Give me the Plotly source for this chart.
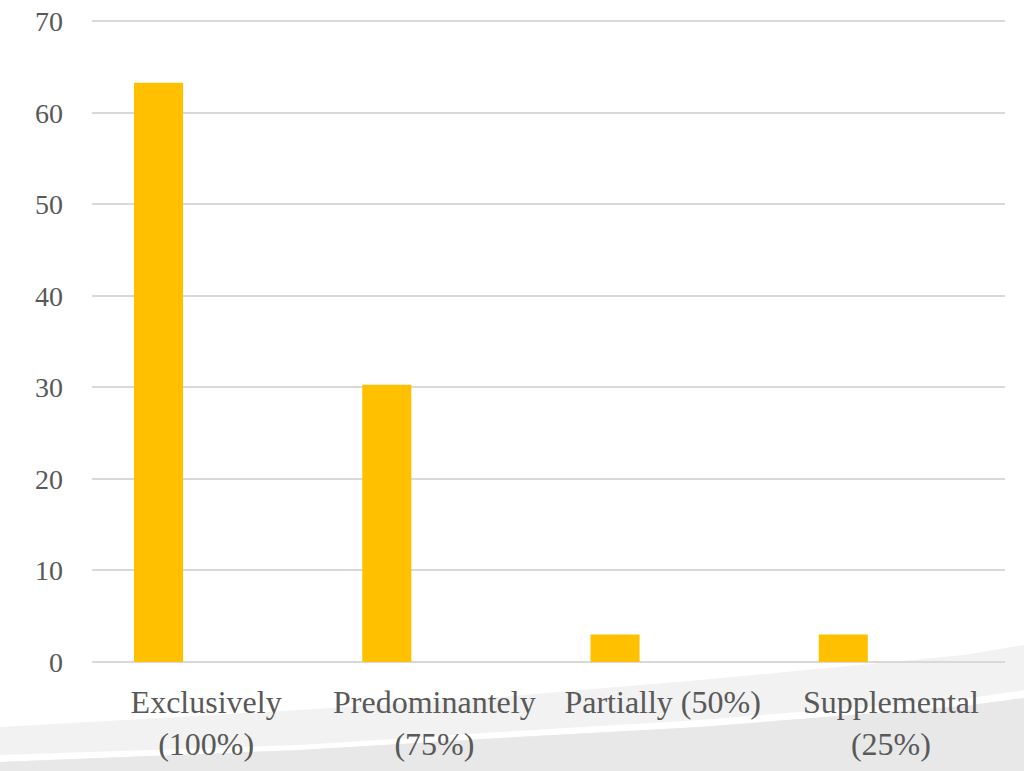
import plotly.graph_objects as go

# Share of responses by level of use
categories = ["Exclusively<br>(100%)", "Predominantely<br>(75%)", "Partially (50%)", "Supplemental<br>(25%)"]
values = [63.3, 30.3, 3, 3]
y_ticks = [0, 10, 20, 30, 40, 50, 60, 70]

W, H = 1024, 771
M_L, M_R, M_T, M_B = 92, 19, 20, 109
PW, PH = W - M_L - M_R, H - M_T - M_B

FONT = "Liberation Serif"
TEXT = "#595959"


def to_paper(pts):
    # convert page pixel points into paper fractions for a shape path
    out = []
    for i, (px, py) in enumerate(pts):
        fx = (px - M_L) / PW
        fy = (H - M_B - py) / PH
        out.append(("M" if i == 0 else "L") + f"{fx:.5f},{fy:.5f}")
    return " ".join(out) + " Z"


# decorative slide background bands along the bottom edge
light_top = [(0, 727), (300, 710), (500, 697), (700, 680), (964, 655), (1024, 645)]
light_bottom = [(0, 755), (300, 745), (500, 732), (700, 720), (964, 699), (1024, 690)]
dark_top = [(0, 762), (300, 750), (500, 738), (700, 727), (964, 706), (1024, 698)]
bottom_edge = [(1024, 771), (0, 771)]

shapes = [
    dict(type="path", xref="paper", yref="paper", layer="below",
         path=to_paper(light_top + bottom_edge), fillcolor="#f2f2f2", line=dict(width=0)),
    dict(type="path", xref="paper", yref="paper", layer="below",
         path=to_paper(light_bottom + dark_top[::-1]), fillcolor="#ffffff", line=dict(width=0)),
    dict(type="path", xref="paper", yref="paper", layer="below",
         path=to_paper(dark_top + bottom_edge), fillcolor="#e8e8e8", line=dict(width=0)),
]

fig = go.Figure(
    go.Bar(
        x=categories,
        y=values,
        marker=dict(color="#FFC000", line=dict(width=0)),
        width=0.215,
        offset=-0.316,
        hoverinfo="skip",
    )
)

fig.update_layout(
    width=W,
    height=H,
    margin=dict(l=M_L, r=M_R, t=M_T, b=M_B, pad=0, autoexpand=False),
    paper_bgcolor="#ffffff",
    plot_bgcolor="rgba(0,0,0,0)",
    showlegend=False,
    shapes=shapes,
    font=dict(family=FONT, color=TEXT),
)

fig.update_xaxes(
    type="category",
    automargin=False,
    showgrid=False,
    showline=False,
    zeroline=False,
    ticks="",
    tickfont=dict(family=FONT, size=32, color=TEXT),
    ticklabelstandoff=18,
)

fig.update_yaxes(
    range=[0, 70.15],
    automargin=False,
    tickvals=y_ticks,
    ticktext=[str(v) for v in y_ticks],
    showgrid=True,
    gridcolor="#d9d9d9",
    gridwidth=1.5,
    zeroline=True,
    zerolinecolor="#d9d9d9",
    zerolinewidth=1.5,
    showline=False,
    ticks="",
    tickfont=dict(family=FONT, size=28, color=TEXT),
    ticklabelstandoff=28,
)

fig.write_html("out.html")
